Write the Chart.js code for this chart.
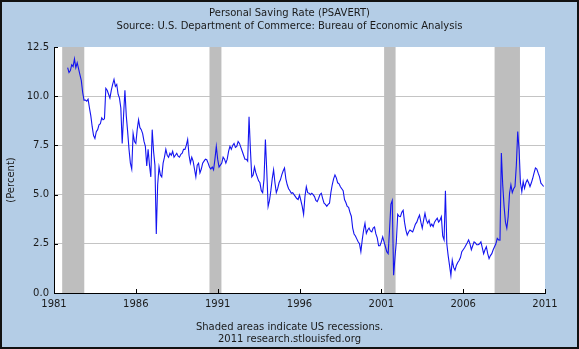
<!DOCTYPE html>
<html>
<head>
<meta charset="utf-8">
<script src="https://cdn.jsdelivr.net/npm/chart.js@4"></script>
<style>
  html, body { margin: 0; padding: 0; overflow: hidden; background: #b4cde6; }
  canvas { display: block; }
</style>
</head>
<body>
<canvas id="chart" width="579" height="349"></canvas>
<script>
// monthly personal saving rate, first value is Nov 1981
const startYear = 1981;
const startMonth = 10; // 0 = Jan

const rate1980s = [
  11.45, 11.2,
  11.3, 11.6, 11.5, 11.9, 11.45, 11.7, 11.4, 11.1, 10.8, 10.2, 9.8, 9.8,
  9.75, 9.85, 9.4, 9.0, 8.45, 8.0, 7.85, 8.2, 8.3, 8.55, 8.6, 8.9,
  8.8, 8.85, 10.4, 10.3, 10.1, 9.9, 10.3, 10.6, 10.85, 10.5, 10.6, 10.1,
  9.9, 9.4, 7.6, 9.0, 10.3, 9.0, 8.2, 7.3, 6.6, 6.3, 8.1, 7.7,
  7.6, 8.3, 8.8, 8.4, 8.3, 8.1, 7.7, 7.45, 6.45, 7.3, 6.5, 5.9,
  8.3, 7.2, 6.5, 3.0, 5.5, 6.4, 6.0, 5.9, 6.6, 6.9, 7.3, 7.0,
  6.9, 7.1, 7.0, 7.2, 6.9, 7.0, 7.1, 6.95, 6.9, 7.05, 7.1, 7.3,
  7.3, 7.5, 7.8, 7.0, 6.6, 6.9, 6.7, 6.3, 5.9, 6.5, 6.6, 6.1
];

const rate1990s = [
  6.3, 6.6, 6.7, 6.8, 6.77, 6.6, 6.4, 6.3, 6.4, 6.26, 6.8, 7.45,
  6.8, 6.4, 6.5, 6.6, 6.9, 6.8, 6.6, 6.8, 7.2, 7.45, 7.3, 7.5,
  7.6, 7.4, 7.45, 7.7, 7.6, 7.4, 7.2, 7.0, 6.8, 6.8, 6.7, 8.95,
  7.3, 5.9, 6.0, 6.4, 6.1, 5.9, 5.7, 5.6, 5.2, 5.1, 5.8, 7.8,
  6.2, 4.4, 4.7, 5.2, 5.8, 6.26, 5.6, 5.1, 5.3, 5.6, 5.75, 6.0,
  6.2, 6.35, 5.8, 5.5, 5.3, 5.2, 5.07, 5.1, 5.0, 4.9, 4.8, 4.75,
  4.98, 4.7, 4.4, 4.0, 4.9, 5.4, 5.1, 5.07, 5.0, 5.07, 5.0, 4.9,
  4.7, 4.64, 4.8, 5.0, 5.07, 4.8, 4.56, 4.5, 4.4, 4.5, 4.56, 5.1,
  5.5, 5.8, 6.0, 5.85, 5.6, 5.55, 5.4, 5.3, 5.2, 4.75, 4.6, 4.4,
  4.35, 4.1, 3.9, 3.3, 3.0, 2.9, 2.75, 2.6, 2.5, 2.1, 2.7, 3.2
];

const rate2000s = [
  3.54, 3.03, 3.2, 3.3, 3.15, 3.1, 3.3, 3.35, 3.0, 2.8, 2.4, 2.4,
  2.6, 2.85, 2.6, 2.35, 2.1, 2.0, 3.2, 4.5, 4.7, 0.9, 1.8, 2.6,
  4.0, 3.9, 3.88, 4.1, 4.2, 3.6, 3.2, 2.94, 3.1, 3.2, 3.15, 3.1,
  3.3, 3.5, 3.6, 3.8, 3.96, 3.6, 3.29, 3.7, 4.05, 3.7, 3.55, 3.7,
  3.4, 3.5, 3.37, 3.6, 3.71, 3.8, 3.6, 3.7, 3.88, 2.9, 2.7, 5.2,
  2.5, 1.9, 1.4, 0.9, 1.67, 1.3, 1.16, 1.4, 1.55, 1.65, 1.8, 2.1,
  2.2, 2.3, 2.43, 2.55, 2.7, 2.5, 2.2, 2.4, 2.6, 2.55, 2.45, 2.45,
  2.5, 2.6, 2.3, 2.0, 2.2, 2.35, 2.0, 1.75, 1.9, 2.0, 2.2, 2.35,
  2.5, 2.78, 2.7, 2.69, 7.11, 5.5, 4.4, 3.6, 3.29, 3.88, 5.07, 5.5,
  5.1, 5.3, 5.41, 6.5, 8.2, 7.3, 5.6, 5.15, 5.66, 5.32, 5.6, 5.75,
  5.6, 5.41, 5.6, 5.83, 6.1, 6.35, 6.3, 6.09, 5.9, 5.58, 5.5, 5.41
];

// recessions as decimal years
const recessionStart = [1981.5, 1990.5, 2001.17, 2007.92];
const recessionEnd = [1982.85, 1991.23, 2001.87, 2009.47];

const yearTicks = [1981, 1986, 1991, 1996, 2001, 2006, 2011];
const rateTicks = [0, 2.5, 5, 7.5, 10, 12.5];

const titleText = 'Personal Saving Rate (PSAVERT)';
const sourceText = 'Source: U.S. Department of Commerce: Bureau of Economic Analysis';
const footText1 = 'Shaded areas indicate US recessions.';
const footText2 = '2011 research.stlouisfed.org';
const yTitle = '(Percent)';

const allRates = [...rate1980s, ...rate1990s, ...rate2000s];
const points = allRates.map((v, i) => ({ x: startYear + (startMonth + i) / 12, y: v }));

const FONT = '10px "DejaVu Sans"';
const TEXT = '#1a1a1a';

// background, recession bars, inward ticks, text, frame
const decor = {
  id: 'decor',
  beforeDraw(chart) {
    const ctx = chart.ctx;
    ctx.save();
    ctx.fillStyle = '#b4cde6';
    ctx.fillRect(0, 0, chart.width, chart.height);
    const a = chart.chartArea;
    ctx.fillStyle = '#ffffff';
    ctx.fillRect(a.left, a.top, a.right - a.left, a.bottom - a.top);
    ctx.restore();
  },
  beforeDatasetsDraw(chart) {
    const ctx = chart.ctx;
    const xs = chart.scales.x;
    const a = chart.chartArea;
    ctx.save();
    ctx.fillStyle = '#bebebe';
    recessionStart.forEach((s, i) => {
      const x0 = xs.getPixelForValue(s);
      const x1 = xs.getPixelForValue(recessionEnd[i]);
      ctx.fillRect(x0, a.top, x1 - x0, a.bottom - a.top);
    });
    ctx.restore();
  },
  afterDraw(chart) {
    const ctx = chart.ctx;
    const xs = chart.scales.x, ys = chart.scales.y;
    const a = chart.chartArea;
    ctx.save();
    ctx.strokeStyle = '#000';
    ctx.lineWidth = 1;
    ctx.beginPath();
    yearTicks.forEach(t => {
      const x = Math.round(xs.getPixelForValue(t)) + 0.5;
      ctx.moveTo(x, a.bottom);
      ctx.lineTo(x, a.bottom - 4);
    });
    rateTicks.forEach(t => {
      const y = Math.round(ys.getPixelForValue(t)) + 0.5;
      ctx.moveTo(a.left, y);
      ctx.lineTo(a.left + 4, y);
    });
    ctx.stroke();

    ctx.fillStyle = TEXT;
    ctx.font = FONT;
    ctx.textAlign = 'center';
    ctx.textBaseline = 'middle';
    const cx = chart.width / 2;
    ctx.fillText(titleText, cx, 13);
    ctx.fillText(sourceText, cx, 26);
    ctx.fillText(footText1, cx, 327);
    ctx.fillText(footText2, cx, 339);

    ctx.translate(11, 180);
    ctx.rotate(-Math.PI / 2);
    ctx.fillText(yTitle, 0, 0);
    ctx.restore();

    ctx.save();
    ctx.strokeStyle = '#111';
    ctx.lineWidth = 2;
    ctx.strokeRect(1, 1, chart.width - 2, chart.height - 2);
    ctx.restore();
  }
};

new Chart(document.getElementById('chart').getContext('2d'), {
  type: 'line',
  data: {
    datasets: [{
      data: points,
      borderColor: '#1414f0',
      borderWidth: 1.1,
      pointRadius: 0,
      tension: 0,
      fill: false
    }]
  },
  options: {
    responsive: false,
    animation: false,
    devicePixelRatio: 1,
    layout: { padding: { top: 47, right: 34, bottom: 0, left: 0 } },
    plugins: {
      legend: { display: false },
      tooltip: { enabled: false }
    },
    scales: {
      x: {
        type: 'linear',
        min: 1981,
        max: 2011,
        afterBuildTicks: s => { s.ticks = yearTicks.map(v => ({ value: v })); },
        afterFit: s => { s.height = 56; },
        grid: { display: false, drawTicks: false },
        border: { display: true, color: '#000', width: 1 },
        ticks: {
          padding: 5,
          maxRotation: 0,
          color: TEXT,
          font: { family: 'DejaVu Sans', size: 10 },
          callback: v => String(v)
        }
      },
      y: {
        min: 0,
        max: 12.5,
        afterBuildTicks: s => { s.ticks = rateTicks.map(v => ({ value: v })); },
        afterFit: s => { s.width = 54; },
        grid: {
          drawTicks: false,
          color: ctx => (ctx.tick && (ctx.tick.value === 0 || ctx.tick.value === 12.5)) ? 'rgba(0,0,0,0)' : '#c4c4c4'
        },
        border: { display: true, color: '#000', width: 1 },
        ticks: {
          padding: 5,
          color: TEXT,
          font: { family: 'DejaVu Sans', size: 10 },
          callback: v => v.toFixed(1)
        }
      }
    }
  },
  plugins: [decor]
});
</script>
</body>
</html>
